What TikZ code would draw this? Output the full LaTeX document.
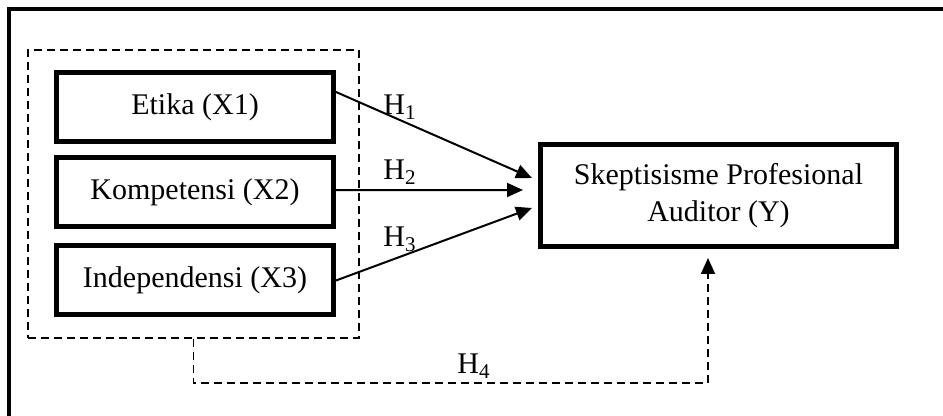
\documentclass[tikz,border=0pt]{standalone}
\usepackage{fontspec}
\setmainfont{Liberation Serif}
\usetikzlibrary{arrows.meta}
\begin{document}
\begin{tikzpicture}[x=0.5pt,y=-0.5pt,
  varbox/.style={draw,line width=2.5pt,minimum width=138.5pt,minimum height=34.5pt,inner sep=0pt,font=\fontsize{15}{18.5}\selectfont},
  grpbox/.style={draw,line width=0.9pt,dash pattern=on 4pt off 2.5pt,minimum width=165.5pt,minimum height=144pt,inner sep=0pt},
  conn/.style={line width=1pt,-{Triangle[length=8pt,width=7pt]}},
  dconn/.style={line width=0.9pt,dash pattern=on 4pt off 2.5pt,-{Triangle[length=8pt,width=7pt]}},
  hlab/.style={anchor=base west,inner sep=0pt,font=\fontsize{15}{18.5}\selectfont}]
\path[use as bounding box,clip] (0,0) rectangle (943,416);
\draw[line width=2pt] (9,440) -- (9,9) -- (960,9);
\node[grpbox] (grp) at (193.5,194) {};
\node[varbox] (x1) at (195,107) {Etika (X1)};
\node[varbox] (x2) at (195,192.5) {Kompetensi (X2)};
\node[varbox] (x3) at (195,280.5) {Independensi (X3)};
\node[varbox,minimum width=178pt,minimum height=51pt,align=center] (y) at (718.5,195.5) {Skeptisisme Profesional\\Auditor (Y)};
\coordinate (t1) at (532,178);
\coordinate (t2) at (523,190);
\coordinate (t3) at (532,208);
\coordinate (t4) at (708,258);
\coordinate (c4) at (450,383);
\draw[conn] ([yshift=7.5pt]x1.east) -- (t1);
\draw[conn] ([yshift=1.2pt]x2.east) -- (t2);
\draw[conn] (x3.east) -- (t3);
\draw[dconn] (grp.south) |- (c4) -| (t4);
\node[hlab] (h1) at (383,115) {H\textsubscript{1}};
\node[hlab] (h2) at (383,180) {H\textsubscript{2}};
\node[hlab] (h3) at (383,247) {H\textsubscript{3}};
\node[hlab] (h4) at (457,374) {H\textsubscript{4}};
\end{tikzpicture}
\end{document}
